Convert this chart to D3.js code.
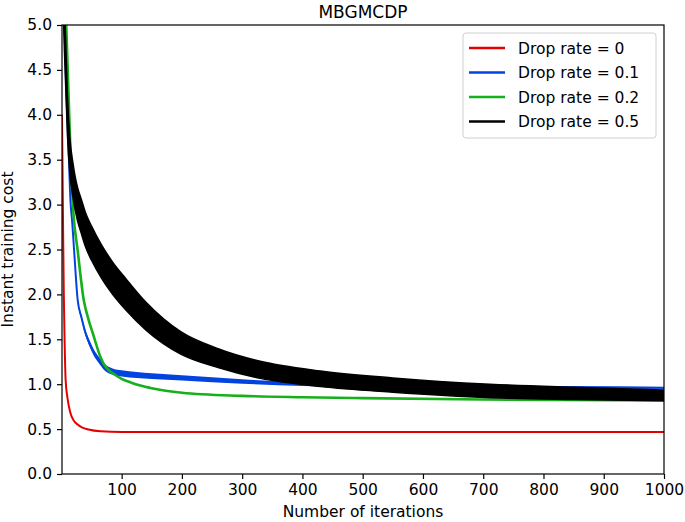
<!DOCTYPE html>
<html lang="en">
<head>
<meta charset="UTF-8">
<title>MBGMCDP</title>
<script src="https://d3js.org/d3.v7.min.js"></script>
<style>
  body { margin: 0; background: #fff; }
  text { font-family: "DejaVu Sans", sans-serif; }
</style>
</head>
<body>
<svg id="chart"></svg>
<script>
// --- data ---
const seriesNames = ["Drop rate = 0", "Drop rate = 0.1", "Drop rate = 0.2", "Drop rate = 0.5"];
const seriesColors = ["#e50000", "#0343df", "#15b01a", "#000000"];

const redIters = [1, 2, 3, 4, 5, 7, 10, 15, 20, 27, 34, 45, 65, 100, 300, 600, 1000];
const redVals  = [4.0, 3.3, 2.6, 2.0, 1.6, 1.05, 0.85, 0.68, 0.6, 0.55, 0.52, 0.495, 0.475, 0.468, 0.467, 0.467, 0.467];

// drop rate 0.1: centre of the jagged trace and its half swing
const blueIters = [1, 5, 8, 12, 15, 18, 21, 27, 33, 40, 47, 54, 62, 70, 85, 100, 150, 200, 300, 400, 500, 700, 850, 1000];
const blueVals  = [6.0, 5.0, 4.3, 3.6, 3.05, 2.8, 2.5, 1.94, 1.75, 1.57, 1.45, 1.35, 1.27, 1.2, 1.14, 1.12, 1.09, 1.07, 1.03, 1.0, 0.99, 0.975, 0.965, 0.96];
const blueAmp   = [0, 0, 0, 0, 0, 0, 0.01, 0.02, 0.025, 0.03, 0.035, 0.035, 0.035, 0.035, 0.035, 0.035, 0.032, 0.03, 0.025, 0.02, 0.018, 0.015, 0.012, 0.01];

const greenIters = [1, 5, 8, 12, 16, 20, 27, 37, 45, 52, 65, 70, 78, 90, 100, 115, 131, 150, 200, 300, 400, 500, 700, 1000];
const greenVals  = [6.0, 5.6, 5.0, 4.2, 3.4, 2.9, 2.49, 1.94, 1.72, 1.57, 1.3, 1.23, 1.16, 1.1, 1.06, 1.02, 0.985, 0.955, 0.905, 0.87, 0.855, 0.845, 0.83, 0.82];

// drop rate 0.5: centre of the oscillation and its half swing
const blackIters = [1, 3, 5, 7, 10, 14, 19, 23, 27, 33, 40, 50, 67, 85, 107, 140, 198, 260, 330, 430, 550, 711, 850, 1000];
const blackVals  = [6.2, 5.5, 5.0, 4.6, 4.0, 3.55, 3.28, 3.12, 3.0, 2.87, 2.72, 2.57, 2.36, 2.18, 2.0, 1.76, 1.46, 1.29, 1.16, 1.06, 0.99, 0.925, 0.897, 0.875];
const blackAmp   = [0.3, 0.3, 0.28, 0.25, 0.22, 0.2, 0.19, 0.185, 0.185, 0.19, 0.19, 0.19, 0.185, 0.18, 0.175, 0.155, 0.125, 0.105, 0.095, 0.087, 0.08, 0.075, 0.068, 0.06];

const xTicks = [100, 200, 300, 400, 500, 600, 700, 800, 900, 1000];
const yTicks = [0, 0.5, 1, 1.5, 2, 2.5, 3, 3.5, 4, 4.5, 5];

// --- layout ---
const width = 685, height = 522;
const m = { left: 62, right: 664, top: 25, bottom: 474 };

const svg = d3.select("#chart").attr("width", width).attr("height", height);

const x = d3.scaleLinear().domain([1, 1000]).range([m.left, m.right]);
const y = d3.scaleLinear().domain([0, 5]).range([m.bottom, m.top]);

svg.append("clipPath").attr("id", "plot")
  .append("rect").attr("x", m.left).attr("y", m.top)
  .attr("width", m.right - m.left).attr("height", m.bottom - m.top);

const plot = svg.append("g").attr("clip-path", "url(#plot)");

const zip = (iters, vals) => iters.map((it, i) => [it, vals[i]]);
const swing = (iters, vals, amp) => iters.map((it, i) => ({ it, lo: vals[i] - amp[i], hi: vals[i] + amp[i] }));
const line = d3.line().x(d => x(d[0])).y(d => y(d[1])).curve(d3.curveMonotoneX);
const band = d3.area().x(d => x(d.it)).y0(d => y(d.lo)).y1(d => y(d.hi)).curve(d3.curveMonotoneX);

// red
plot.append("path").datum(zip(redIters, redVals))
  .attr("fill", "none").attr("stroke", seriesColors[0]).attr("stroke-width", 2)
  .attr("d", line);

// blue: jagged band + line
plot.append("path").datum(swing(blueIters, blueVals, blueAmp))
  .attr("fill", seriesColors[1]).attr("d", band);
plot.append("path").datum(zip(blueIters, blueVals))
  .attr("fill", "none").attr("stroke", seriesColors[1]).attr("stroke-width", 2)
  .attr("d", line);

// green
plot.append("path").datum(zip(greenIters, greenVals))
  .attr("fill", "none").attr("stroke", seriesColors[2]).attr("stroke-width", 2.6)
  .attr("d", line);

// black: oscillation envelope drawn as a filled band
plot.append("path").datum(swing(blackIters, blackVals, blackAmp))
  .attr("fill", seriesColors[3]).attr("stroke", seriesColors[3]).attr("stroke-width", 1.5)
  .attr("d", band);

// frame
svg.append("rect").attr("x", m.left).attr("y", m.top)
  .attr("width", m.right - m.left).attr("height", m.bottom - m.top)
  .attr("fill", "none").attr("stroke", "#000").attr("stroke-width", 1.2);

// axes
const xAxis = svg.append("g").attr("transform", `translate(0,${m.bottom})`)
  .call(d3.axisBottom(x).tickValues(xTicks).tickSize(5).tickPadding(5).tickFormat(d3.format("d")));
const yAxis = svg.append("g").attr("transform", `translate(${m.left},0)`)
  .call(d3.axisLeft(y).tickValues(yTicks).tickSize(5).tickPadding(5).tickFormat(d3.format(".1f")));
[xAxis, yAxis].forEach(a => {
  a.select(".domain").remove();
  a.selectAll("text").attr("font-family", "DejaVu Sans").attr("font-size", 15.5).attr("fill", "#000");
  a.selectAll("line").attr("stroke", "#000").attr("stroke-width", 1.2);
});

// labels
svg.append("text").attr("x", (m.left + m.right) / 2).attr("y", 18)
  .attr("text-anchor", "middle").attr("font-size", 17).text("MBGMCDP");
svg.append("text").attr("x", (m.left + m.right) / 2).attr("y", 517)
  .attr("text-anchor", "middle").attr("font-size", 15.5).text("Number of iterations");
svg.append("text").attr("transform", `translate(13,${(m.top + m.bottom) / 2}) rotate(-90)`)
  .attr("text-anchor", "middle").attr("font-size", 15.5).text("Instant training cost");

// legend
const legend = svg.append("g").attr("transform", "translate(463,33)");
legend.append("rect").attr("width", 193).attr("height", 105).attr("rx", 3)
  .attr("fill", "#fff").attr("fill-opacity", 0.8).attr("stroke", "#d0d0d0");
seriesNames.forEach((name, i) => {
  const g = legend.append("g").attr("transform", `translate(0,${15 + i * 24.5})`);
  g.append("line").attr("x1", 6).attr("x2", 42).attr("stroke", seriesColors[i]).attr("stroke-width", 2.4);
  g.append("text").attr("x", 55).attr("y", 5.5).attr("font-size", 15.5).text(name);
});
</script>
</body>
</html>
